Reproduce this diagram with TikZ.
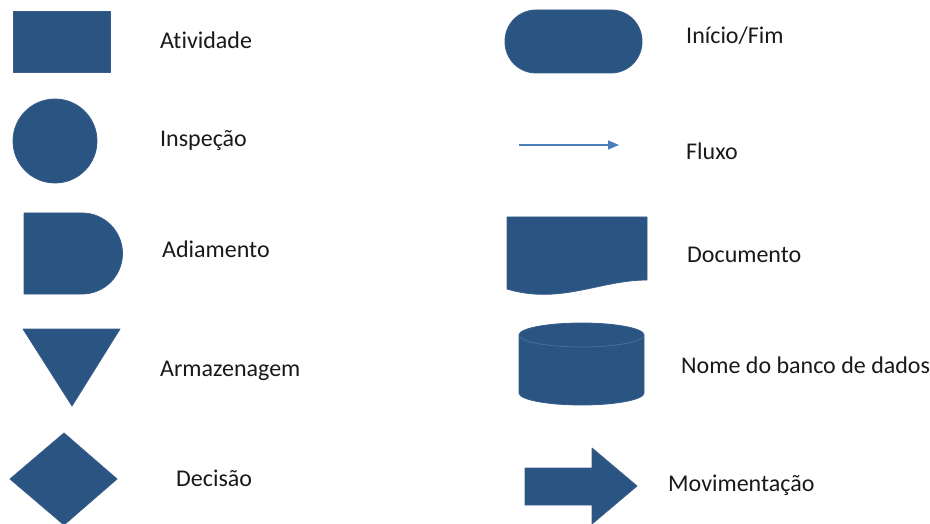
\documentclass[tikz,border=0pt]{standalone}
\usepackage{fontspec}
\setmainfont[Ligatures={NoCommon}]{Carlito}
\usetikzlibrary{arrows.meta}
\definecolor{shapefill}{RGB}{42,85,130}
\definecolor{shapeedge}{RGB}{56,93,138}
\definecolor{rimline}{RGB}{72,110,156}
\definecolor{flowline}{RGB}{74,126,187}
\definecolor{labeltext}{RGB}{25,25,25}
% keep "t" and "i" as separate glyphs
\newcommand{\tisep}{t\kern0pt i}

\begin{document}
\begin{tikzpicture}[x=1pt,y=-1pt,
  sym/.style={fill=shapefill, draw=shapeedge, line width=0.8pt, line join=round},
  lbl/.style={anchor=base west, inner sep=0pt, text=labeltext,
              font=\fontsize{24}{28}\selectfont}]
\useasboundingbox (0,0) rectangle (930,524);
\clip (0,0) rectangle (930,524);

% ---- left column of symbols ----
% activity
\draw[sym] (13,11) rectangle (110,72);
% inspection
\draw[sym] (55,141) circle[radius=42pt];
% delay
\draw[sym] (24,213) -- (82,213) arc[start angle=90, end angle=-90, radius=40.5pt]
  -- (24,294) -- cycle;
% storage
\draw[sym] (23,329) -- (120,329) -- (72,406) -- cycle;
% decision
\draw[sym] (10,479) -- (64,433) -- (117,479) -- (64,525) -- cycle;

% ---- right column of symbols ----
% terminator
\draw[sym, rounded corners=31pt] (505,10) rectangle (642,73);
% flow line
\coordinate (fluxoA) at (519,145);
\coordinate (fluxoB) at (619,145);
\draw[flowline, line width=1.5pt, -{Triangle[length=11pt,width=9pt]}] (fluxoA) -- (fluxoB);
% document
\draw[sym] (507,217) -- (647,217) -- (647,280)
  .. controls (600,280) and (560,305) .. (507,289) -- cycle;
% database cylinder
\draw[sym] (519,335) -- (519,393)
  arc[start angle=180, end angle=360, x radius=62.5pt, y radius=12pt]
  -- (644,335)
  arc[start angle=0, end angle=180, x radius=62.5pt, y radius=12pt] -- cycle;
\draw[rimline, line width=0.8pt] (519,335)
  arc[start angle=180, end angle=360, x radius=62.5pt, y radius=12pt];
% movement block arrow
\draw[sym] (525,468) -- (592,468) -- (592,448) -- (637,486) -- (592,524)
  -- (592,505) -- (525,505) -- cycle;

% ---- labels ----
\node[lbl] (atividade)    at (160,49)  {A\tisep vidade};
\node[lbl] (inspecao)     at (160,147) {Inspeção};
\node[lbl] (adiamento)    at (162,258) {Adiamento};
\node[lbl] (armazenagem)  at (160,376) {Armazenagem};
\node[lbl] (decisao)      at (176,486) {Decisão};
\node[lbl] (iniciofim)    at (686,44)  {Início/Fim};
\node[lbl] (fluxo)        at (686,160) {Fluxo};
\node[lbl] (documento)    at (687,262) {Documento};
\node[lbl] (banco)        at (681,373) {Nome do banco de dados};
\node[lbl] (movimentacao) at (668,491) {Movimentação};
\end{tikzpicture}
\end{document}
